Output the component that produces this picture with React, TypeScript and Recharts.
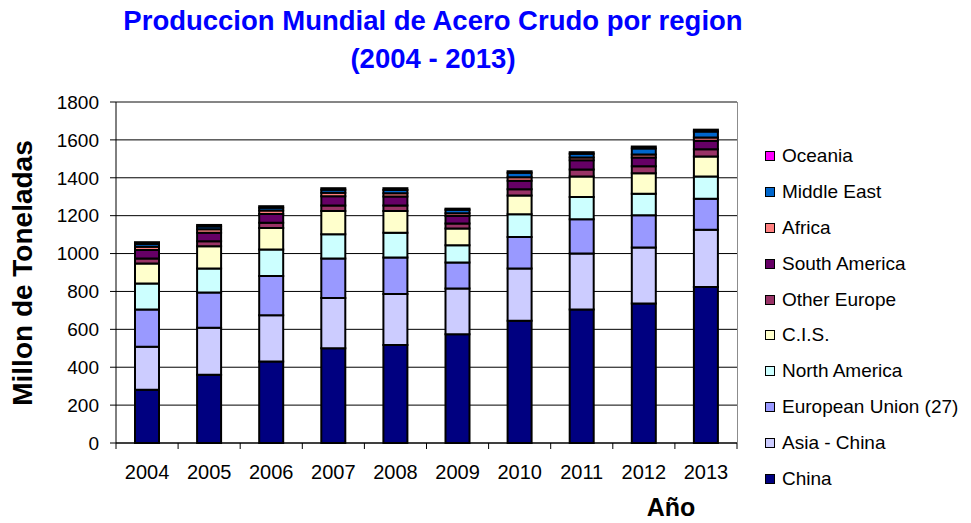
import { BarChart, Bar, XAxis, YAxis, CartesianGrid, ReferenceLine } from 'recharts';

const years = ['2004', '2005', '2006', '2007', '2008', '2009', '2010', '2011', '2012', '2013'];
const yTicks = [0, 200, 400, 600, 800, 1000, 1200, 1400, 1600, 1800];

// Millon de toneladas
const china = [281, 360, 430, 500, 517, 574, 645, 705, 737, 824];
const asiaChina = [227, 249, 245, 266, 269, 242, 276, 295, 295, 302];
const europeanUnion = [197, 186, 207, 208, 193, 137, 166, 181, 170, 163];
const northAmerica = [137, 126, 139, 128, 131, 91, 120, 117, 114, 118];
const cis = [105, 117, 114, 122, 114, 88, 100, 109, 108, 105];
const otherEurope = [27, 27, 28, 30, 30, 26, 33, 37, 37, 38];
const southAmerica = [45, 45, 46, 48, 47, 40, 44, 48, 46, 46];
const africa = [17, 18, 18, 19, 17, 15, 19, 15, 16, 16];
const middleEast = [15, 15, 15, 16, 18, 18, 24, 20, 32, 32];
const oceania = [9, 8, 8, 8, 9, 6, 8, 8, 10, 10];

const series = [
  { key: 'china', name: 'China', color: '#000080', values: china },
  { key: 'asiaChina', name: 'Asia - China', color: '#CCCCFF', values: asiaChina },
  { key: 'eu', name: 'European Union (27)', color: '#9999FF', values: europeanUnion },
  { key: 'na', name: 'North America', color: '#CCFFFF', values: northAmerica },
  { key: 'cis', name: 'C.I.S.', color: '#FFFFCC', values: cis },
  { key: 'otherEurope', name: 'Other Europe', color: '#993366', values: otherEurope },
  { key: 'southAmerica', name: 'South America', color: '#660066', values: southAmerica },
  { key: 'africa', name: 'Africa', color: '#FF8080', values: africa },
  { key: 'middleEast', name: 'Middle East', color: '#0066CC', values: middleEast },
  { key: 'oceania', name: 'Oceania', color: '#FF00FF', values: oceania },
];

const data = years.map((year, i) => {
  const row: Record<string, string | number> = { year };
  series.forEach((s) => (row[s.key] = s.values[i]));
  return row;
});

const FONT = '"Liberation Sans", Arial, sans-serif';
const W = 971;
const H = 523;
const PLOT_LEFT = 116;
const PLOT_RIGHT = 737;
const PLOT_TOP = 102;
const PLOT_BOTTOM = 443;
const HALF_BAND = (PLOT_RIGHT - PLOT_LEFT) / years.length / 2;

const XTick = (props: any) => {
  const { x, y, payload, index } = props;
  return (
    <g>
      <line x1={x - HALF_BAND} x2={x - HALF_BAND} y1={y} y2={y + 6} stroke="#000" />
      {index === years.length - 1 && (
        <line x1={x + HALF_BAND} x2={x + HALF_BAND} y1={y} y2={y + 6} stroke="#000" />
      )}
      <text x={x} y={y + 36} textAnchor="middle" fontSize={20} fontFamily={FONT} fill="#000">
        {payload.value}
      </text>
    </g>
  );
};

const LegendBox = () => (
  <div
    style={{
      position: 'absolute',
      left: 765,
      top: 138,
      fontFamily: FONT,
      fontSize: 19,
      color: '#000',
    }}
  >
    {[...series].reverse().map((s) => (
      <div key={s.key} style={{ display: 'flex', alignItems: 'center', height: 35.9 }}>
        <span
          style={{
            width: 10,
            height: 10,
            background: s.color,
            border: '1px solid #000',
            boxSizing: 'border-box',
            marginRight: 7,
          }}
        />
        <span style={{ whiteSpace: 'nowrap' }}>{s.name}</span>
      </div>
    ))}
  </div>
);

export default function App() {
  return (
    <div style={{ position: 'absolute', left: 0, top: 0, width: W, height: H, background: '#fff' }}>
      <div
        style={{
          position: 'absolute',
          left: 0,
          top: 0,
          width: 866,
          textAlign: 'center',
          fontFamily: FONT,
          fontWeight: 'bold',
          fontSize: 27.5,
          color: '#0000FF',
          lineHeight: '38px',
          paddingTop: 2,
        }}
      >
        <div>Produccion Mundial de Acero Crudo por region</div>
        <div>(2004 - 2013)</div>
      </div>

      <BarChart
        width={W}
        height={H}
        data={data}
        barSize={24}
        margin={{ top: PLOT_TOP, right: W - PLOT_RIGHT, left: PLOT_LEFT - 60, bottom: H - PLOT_BOTTOM - 30 }}
      >
        <CartesianGrid vertical={false} stroke="#000" />
        <XAxis
          dataKey="year"
          height={30}
          axisLine={{ stroke: '#000' }}
          tickLine={false}
          tickSize={0}
          tickMargin={0}
          interval={0}
          tick={<XTick />}
        />
        <YAxis
          width={60}
          domain={[0, 1800]}
          ticks={yTicks}
          interval={0}
          axisLine={{ stroke: '#000' }}
          tickLine={{ stroke: '#000' }}
          tickSize={6}
          tickMargin={11}
          tick={{ fontSize: 19, fontFamily: FONT, fill: '#000' }}
        />
        <ReferenceLine y={1800} stroke="#8c8c8c" />
        {series.map((s) => (
          <Bar
            key={s.key}
            dataKey={s.key}
            name={s.name}
            stackId="a"
            fill={s.color}
            stroke="#000"
            strokeWidth={2}
            isAnimationActive={false}
          />
        ))}
      </BarChart>

      <div
        style={{
          position: 'absolute',
          left: PLOT_RIGHT,
          top: PLOT_TOP,
          width: 1,
          height: PLOT_BOTTOM - PLOT_TOP,
          background: '#8c8c8c',
        }}
      />

      <LegendBox />

      <div
        style={{
          position: 'absolute',
          left: 23,
          top: 273,
          transform: 'translate(-50%, -50%) rotate(-90deg)',
          fontFamily: FONT,
          fontWeight: 'bold',
          fontSize: 28,
          whiteSpace: 'nowrap',
          lineHeight: 1,
        }}
      >
        Millon de Toneladas
      </div>
      <div
        style={{
          position: 'absolute',
          left: 671,
          top: 507,
          transform: 'translate(-50%, -50%)',
          fontFamily: FONT,
          fontWeight: 'bold',
          fontSize: 25,
          whiteSpace: 'nowrap',
          lineHeight: 1,
        }}
      >
        Año
      </div>
    </div>
  );
}
